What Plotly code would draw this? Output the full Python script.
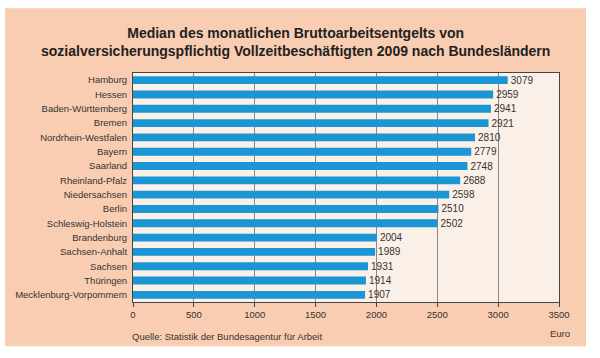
import plotly.graph_objects as go

states = ["Hamburg", "Hessen", "Baden-Württemberg", "Bremen", "Nordrhein-Westfalen",
          "Bayern", "Saarland", "Rheinland-Pfalz", "Niedersachsen", "Berlin",
          "Schleswig-Holstein", "Brandenburg", "Sachsen-Anhalt", "Sachsen",
          "Thüringen", "Mecklenburg-Vorpommern"]
values = [3079, 2959, 2941, 2921, 2810, 2779, 2748, 2688, 2598, 2510,
          2502, 2004, 1989, 1931, 1914, 1907]
x_ticks = [0, 500, 1000, 1500, 2000, 2500, 3000, 3500]

FONT = "Liberation Sans, Arial, sans-serif"
TXT = "#333333"

fig = go.Figure(go.Bar(
    x=values, y=states, orientation="h",
    marker=dict(color="#1B95D3", line=dict(width=0)),
    width=0.55,
    text=[str(v) for v in values], textposition="outside",
    constraintext="none",
    textfont=dict(size=10, color=TXT, family=FONT),
    cliponaxis=False,
    hoverinfo="skip",
))

W_PLOT = 426.0
H_PLOT = 229.0
def px_x(p):
    return (p - 133) / W_PLOT
def px_y(p):
    return (301.7 - p) / H_PLOT

fig.update_layout(
    width=600, height=358,
    margin=dict(l=133, r=41, t=72.7, b=56.3, pad=0),
    paper_bgcolor="white",
    plot_bgcolor="rgba(0,0,0,0)",
    showlegend=False,
    font=dict(family=FONT, size=9, color=TXT),
    shapes=[
        dict(type="rect", xref="paper", yref="paper",
             x0=px_x(5), x1=px_x(586), y0=px_y(346), y1=px_y(8),
             fillcolor="#F9CDB1", line=dict(width=0), layer="below"),
        dict(type="rect", xref="paper", yref="paper",
             x0=0, x1=1, y0=0, y1=1,
             fillcolor="#FBF0E8", line=dict(width=0), layer="below"),
    ],
    xaxis=dict(range=[0, 3500], tickvals=x_ticks, ticktext=[str(t) for t in x_ticks],
               showgrid=True, gridcolor="#8A8A8A", gridwidth=1,
               showline=True, linecolor="#444444", linewidth=1, mirror=True,
               ticks="outside", ticklen=4, tickcolor="#444444", automargin=False,
               tickfont=dict(size=9.5, color=TXT), zeroline=False, fixedrange=True),
    yaxis=dict(autorange="reversed", showgrid=False, automargin=False,
               showline=True, linecolor="#444444", linewidth=1, mirror=True,
               ticks="", tickfont=dict(size=9.5, color=TXT), ticklabelstandoff=3,
               fixedrange=True),
    annotations=[
        dict(text="<b>Median des monatlichen Bruttoarbeitsentgelts von<br>"
                  "sozialversicherungspflichtig Vollzeitbeschäftigten 2009 nach Bundesländern</b>",
             xref="paper", yref="paper", x=px_x(295), y=px_y(41.5),
             xanchor="center", yanchor="middle", showarrow=False,
             font=dict(size=14, color="#222222", family=FONT), align="center"),
        dict(text="Euro", xref="paper", yref="paper", x=px_x(560), y=px_y(333),
             xanchor="center", yanchor="middle", showarrow=False,
             font=dict(size=9.5, color=TXT, family=FONT)),
        dict(text="Quelle: Statistik der Bundesagentur für Arbeit", xref="paper", yref="paper",
             x=px_x(130), y=px_y(336), xanchor="left", yanchor="middle", showarrow=False,
             font=dict(size=9.5, color=TXT, family=FONT)),
    ],
)

fig.write_html("out.html", config={"displayModeBar": False},
               post_script="document.body.style.margin='0';")
